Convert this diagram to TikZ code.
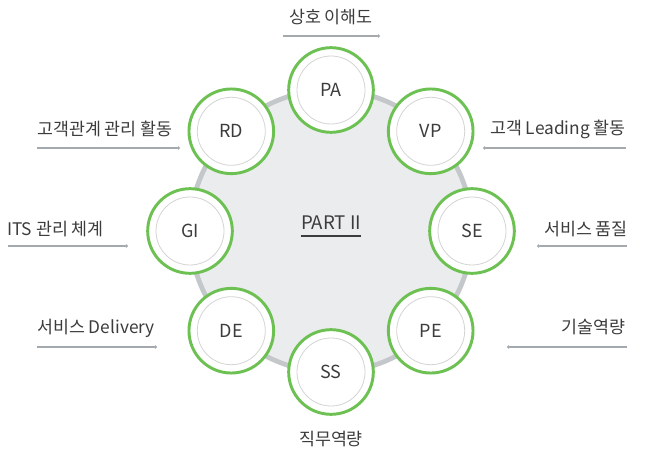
\documentclass[tikz,border=0pt]{standalone}
\usepackage{fontspec}
\setmainfont{Noto Sans CJK KR}
\usetikzlibrary{arrows.meta,positioning,calc,backgrounds}
\definecolor{ringgreen}{HTML}{6DC153}
\definecolor{diskgray}{HTML}{EBECEE}
\definecolor{rimgray}{HTML}{C5C8CB}
\definecolor{textgray}{HTML}{3C3C3C}
\definecolor{linegray}{HTML}{A4A9AE}
\tikzset{
  cpnode/.style={circle,draw=ringgreen,line width=2.2pt,fill=white,
    minimum size=63.5pt,inner sep=0pt,text=textgray,
    font=\fontsize{13.5}{15}\selectfont,
    path picture={\draw[black!17,line width=0.6pt]
      (path picture bounding box.center) circle (25.5pt);}},
  cplabel/.style={inner sep=0pt,text=textgray,font=\fontsize{13}{15}\selectfont},
  cpline/.style={draw=linegray,line width=0.8pt},
  cpdotl/.style={cpline,{Circle[length=2.4pt]}-},
  cpdotr/.style={cpline,-{Circle[length=2.4pt]}},
}
\begin{document}
\begin{tikzpicture}[x=0.75pt,y=-0.75pt]
\useasboundingbox (0,0) rectangle (657,452);
% disk
\coordinate (ctr) at (331,231);
\draw[fill=diskgray,draw=rimgray,line width=3.6pt] (ctr) circle (105.75pt);
\node[inner sep=0pt,text=textgray,font=\fontsize{14}{16}\selectfont] (part) at (331,223) {PART II};
\draw[textgray,line width=1pt] ([yshift=-4.5pt]part.base west) -- ([yshift=-4.5pt]part.base east);
% rings
\node[cpnode] (pa) at ($(ctr)+(90:105.75pt)$) {PA};
\node[cpnode] (vp) at ($(ctr)+(45:105.75pt)$) {VP};
\node[cpnode] (se) at ($(ctr)+(0:105.75pt)$) {SE};
\node[cpnode] (pe) at ($(ctr)+(-45:105.75pt)$) {PE};
\node[cpnode] (ss) at ($(ctr)+(-90:105.75pt)$) {SS};
\node[cpnode] (de) at ($(ctr)+(-135:105.75pt)$) {DE};
\node[cpnode] (gi) at ($(ctr)+(180:105.75pt)$) {GI};
\node[cpnode] (rd) at ($(ctr)+(135:105.75pt)$) {RD};
% labels
\node[cplabel] (paT) at (331,17) {상호 이해도};
\coordinate (paA) at (283,36);
\coordinate (paB) at (380,36);
\draw[cpdotr] (paA) -- (paB);

\node[cplabel,anchor=west] (rdT) at (37,129) {고객관계 관리 활동};
\coordinate (rdA) at (37,148);
\coordinate (rdB) at (180,148);
\draw[cpdotr] (rdA) -- (rdB);

\node[cplabel,anchor=east] (vpT) at (626,129) {고객 Leading 활동};
\coordinate (vpA) at (483,148);
\coordinate (vpB) at (626,148);
\draw[cpdotl] (vpA) -- (vpB);

\node[cplabel,anchor=west] (giT) at (7,229) {ITS 관리 체계};
\coordinate (giA) at (8,246);
\coordinate (giB) at (128,246);
\draw[cpdotr] (giA) -- (giB);

\node[cplabel,anchor=east] (seT) at (628,229) {서비스 품질};
\coordinate (seA) at (537,246);
\coordinate (seB) at (627,246);
\draw[cpdotl] (seA) -- (seB);

\node[cplabel,anchor=west] (deT) at (37,328) {서비스 Delivery};
\coordinate (deA) at (37,347);
\coordinate (deB) at (157,347);
\draw[cpdotr] (deA) -- (deB);

\node[cplabel,anchor=east] (peT) at (626,327) {기술역량};
\coordinate (peA) at (507,347);
\coordinate (peB) at (627,347);
\draw[cpdotl] (peA) -- (peB);

\node[cplabel] (ssT) at (331,439) {직무역량};
\end{tikzpicture}
\end{document}
